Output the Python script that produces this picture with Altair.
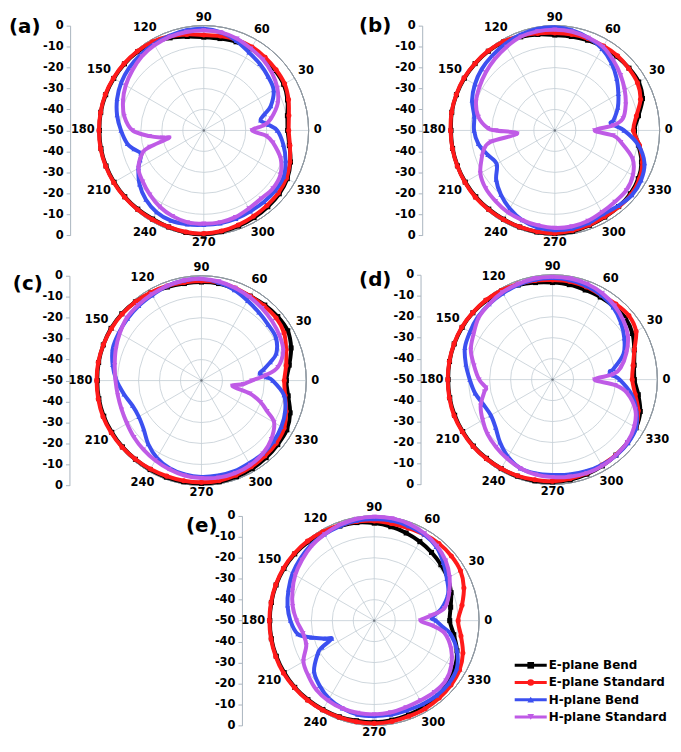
import math
import altair as alt
import pandas as pd

FONT = "DejaVu Sans"
SERIES = ["E-plane Bend", "E-plane Standard", "H-plane Bend", "H-plane Standard"]
COLORS = ["#000000", "#ff1a1a", "#3c50f0", "#bf5be6"]
SHAPES = ["square", "circle", "triangle-up", "triangle-down"]
ANGLES = list(range(0, 360, 10))
SPOKES = list(range(0, 360, 30))
RINGS = [-40, -30, -20, -10]
OUTER = [0]
TICKS = list(range(-50, 51, 10))

# ---------------- panel (a) ----------------
A_E_BEND = [-10, -9.5, -7.5, -6, -5.5, -5, -5, -5, -5.5, -5.5, -4.5, -3, -1.8, -1, -0.6, -0.4, -0.2, -0.1,
            -0.2, -0.2, -0.4, -0.6, -0.8, -1, -1.2, -1, -0.6, -0.5, -1, -1.5, -2, -2.5, -3, -4, -6, -8.5]
A_E_STD = [-9.5, -8.8, -7, -5.5, -5, -4.5, -4, -4, -4.3, -4.5, -3.5, -2.2, -1.2, -0.7, -0.4, -0.2, 0, 0,
           0, 0, -0.2, -0.4, -0.6, -0.8, -1, -1, -0.8, -0.8, -1.3, -2, -2.7, -3.2, -3.6, -4.5, -6.3, -8.3]
A_H_BEND = [-15, -22.5, -16, -11.5, -10, -8.5, -7, -4.5, -2.5, -1.5, -1.5, -2, -2.5, -3, -3.5, -4.5, -6, -8,
            -10.5, -13, -18, -14, -10, -7, -5, -4.2, -4.5, -5, -5, -5.2, -5.5, -5.5, -5.5, -6, -8.5, -11.5]
A_H_STD = [-27, -17.5, -12.5, -9.5, -7.5, -6, -5, -3.5, -2.5, -2.3, -2.3, -2.5, -3, -4, -5.5, -7, -9, -11.5,
           -16, -30, -19, -14, -12, -10, -8, -6.5, -5.5, -5.5, -5.5, -6, -7, -7.5, -7, -7.8, -11, -16.5]
A_EXTRA = {"H-plane Bend": ([5, 15, 195, 205], [-19, -20, -15.5, -16.5]),
           "H-plane Standard": ([5, 355, 186, 192, 197], [-21, -20, -24, -33, -23])}

# ---------------- panel (b) ----------------
B_E_BEND = [-12, -9.5, -5.5, -3.8, -3.8, -4, -4, -4.2, -4.5, -4.5, -3.5, -2.5, -1.3, -0.7, -0.4, -0.2, -0.1, -0.1,
            -0.5, -0.5, -0.6, -0.7, -0.8, -1, -1.1, -1, -0.8, -0.8, -1.2, -1.8, -2.3, -2.6, -3, -4, -6, -9.5]
B_E_STD = [-12.5, -10.5, -6.5, -4.5, -4, -3.5, -3.5, -3.5, -3.5, -3.5, -3, -2, -1, -0.5, -0.3, 0, 0, 0,
           -0.3, -0.4, -0.5, -0.5, -0.5, -0.8, -1, -1, -1, -1, -1.5, -2, -2.5, -2.5, -2.5, -3.5, -5.5, -9]
B_H_BEND = [-17, -21.5, -18, -15, -11.5, -8, -5, -3, -1.5, -0.8, -0.8, -1.5, -2.5, -3.5, -4.5, -6, -8, -11,
            -11.5, -13, -16, -18, -13.5, -10, -7, -4.5, -3, -2.5, -2.5, -3, -4, -3, -2, -2.5, -4.5, -9.5]
B_H_STD = [-31, -17, -14, -11.5, -9, -6.5, -4, -3, -2.2, -2, -2, -2.5, -4, -5.5, -7, -8.5, -10, -13,
           -22, -19, -13, -9, -7, -6, -5, -4.5, -4, -3.5, -3.5, -4, -5, -5.5, -5.5, -7, -10.5, -18]
B_EXTRA = {"H-plane Bend": ([7], [-23]),
           "H-plane Standard": ([5, 355, 178, 185, 195], [-22, -22, -18, -32, -15])}

# ---------------- panel (c) ----------------
C_E_BEND = [-9.5, -7.5, -4.5, -2.5, -2.5, -3, -3.5, -3.5, -3, -3, -3, -2.5, -1.8, -1, -0.4, -0.2, -0.2, -0.2,
            -0.3, -0.3, -0.4, -0.6, -0.8, -1, -1, -1, -1, -1, -1, -1.2, -1.5, -2, -2.5, -3, -5, -8]
C_E_STD = [-10.5, -9, -7, -4.5, -3.5, -3.5, -3.5, -3, -2.5, -2.5, -2.5, -2, -1.5, -1, -0.6, -0.4, -0.2, 0,
           0, 0, 0, -0.3, -0.6, -1, -1.3, -1.5, -1.5, -1.5, -1.5, -2, -2.5, -3, -3.5, -4.5, -7, -9.5]
C_H_BEND = [-16, -20, -12, -9, -8.5, -7.5, -6, -4, -2.5, -1.5, -1.5, -2, -3, -3.5, -4, -4.5, -5, -7,
            -9.5, -12.5, -15, -15.5, -14, -10.5, -7.5, -5.5, -4.5, -4, -4, -4, -4.5, -4.5, -5, -6, -7.5, -10]
C_H_STD = [-26, -13, -8.5, -7, -6, -5, -4, -3, -2, -1.5, -1.5, -2, -2.5, -3, -3.5, -5, -6.5, -8,
           -9, -9.5, -9.5, -9, -8, -7, -6, -5, -4, -3.5, -3, -3, -3.5, -4.5, -6.5, -10, -20, -35]
C_EXTRA = {"H-plane Bend": ([3, 7, 15], [-19, -22, -16]),
           "H-plane Standard": ([5, 335, 345, 355], [-19, -15.5, -26, -30])}

# ---------------- panel (d) ----------------
D_E_BEND = [-11, -10.5, -8.5, -6, -4.5, -4.5, -4.5, -4.5, -4, -3.7, -3, -2, -1.3, -0.8, -0.4, -0.2, -0.1, -0.1,
            -0.2, -0.2, -0.3, -0.5, -0.7, -1, -1, -1, -1, -1.2, -1.5, -2, -2.5, -3, -3.3, -4, -5.5, -8.5]
D_E_STD = [-12, -11, -8.5, -4, -2.5, -3, -3.5, -3, -2.5, -2.5, -2, -1.5, -1, -0.5, -0.3, 0, 0, 0,
           0, 0, 0, -0.3, -0.5, -0.8, -1, -1.2, -1.5, -1.5, -2, -2.5, -3, -3, -3.3, -4.2, -6.5, -10]
D_H_BEND = [-18, -20.5, -14, -10.5, -7.5, -5, -3.5, -2.5, -1.8, -1.5, -1.5, -2, -2.5, -3, -3.5, -4.5, -5.5, -8,
            -10.5, -12.5, -15, -16, -14.5, -11, -7.5, -5, -4.5, -4.5, -4, -3.5, -3, -2.8, -3, -4, -7.5, -12]
D_H_STD = [-30, -17, -12.5, -8.5, -6, -4, -2.5, -1.5, -1, -1, -1, -1.5, -2, -3, -4, -6.5, -8.5, -12,
           -15, -17, -13.5, -11.5, -9.5, -8, -6.5, -5, -4, -3.5, -3, -2.5, -2.5, -3, -3.5, -5, -8, -14]
D_EXTRA = {"H-plane Bend": ([4, 8], [-21, -22.5]),
           "H-plane Standard": ([5, 355, 187], [-21, -20, -18])}

# ---------------- panel (e) ----------------
E_E_BEND = [-14, -13, -11, -9.5, -8.5, -7.5, -6.5, -5.5, -4.5, -3.5, -2.5, -2, -1.5, -1, -0.5, -0.3, -0.2, -0.2,
            -0.2, -0.2, -0.3, -0.4, -0.5, -0.8, -1, -1.2, -1.5, -1.5, -1.8, -2.2, -2.5, -3, -4, -5.5, -8, -11.5]
E_E_STD = [-10, -7.5, -4.5, -2.5, -2, -2, -2.5, -3, -3, -2.5, -2, -1.5, -1, -0.5, -0.2, 0, 0, 0,
           0, 0, 0, 0, -0.3, -0.5, -0.8, -1, -1, -1, -1.2, -1.5, -1.5, -1.8, -2.2, -3, -5, -8]
E_H_BEND = [-20.5, -17.5, -12.5, -10, -7, -4, -2.5, -2, -1.5, -1.5, -1.5, -2, -2.5, -3, -4, -5, -6.5, -8,
            -10, -13, -25, -19, -12.5, -9.5, -7, -5.5, -4.5, -4.5, -4.5, -4.5, -4, -3.5, -3.5, -4.5, -8, -13]
E_H_STD = [-28, -16, -12, -8.5, -5.5, -3.5, -2, -1, -0.5, -0.5, -0.8, -1.5, -2.5, -3.5, -5, -6.5, -8.5, -10.5,
           -13, -15.5, -15.5, -11, -9, -7, -6, -5.5, -5.3, -5.3, -5.5, -6, -6, -5.5, -5.5, -7.5, -11, -16]
E_EXTRA = {"H-plane Bend": ([3, 355, 195, 203, 207], [-22.5, -17.5, -19, -28, -22]),
           "H-plane Standard": ([5, 355], [-23, -22])}

# ---------------- layout (pixels inside the view) ----------------
S = 0.978
R = 108 * S
GRID_C = "#c3ccd4"
OUTER_C = "#8f979f"
AXIS_C = "#a9b4be"

PANELS = [
    # letter, series arrays, extras, centre (ref px), axis x (ref px), letter dx, letter dy
    ("(a)", [A_E_BEND, A_E_STD, A_H_BEND, A_H_STD], A_EXTRA, (201.7, 123.3), 64.0, -90.6, 1.6),
    ("(b)", [B_E_BEND, B_E_STD, B_H_BEND, B_H_STD], B_EXTRA, (563.3, 123.3), 426.7, -91.6, 0.5),
    ("(c)", [C_E_BEND, C_E_STD, C_H_BEND, C_H_STD], C_EXTRA, (199.3, 381.0), 63.3, -84.4, 8.5),
    ("(d)", [D_E_BEND, D_E_STD, D_H_BEND, D_H_STD], D_EXTRA, (561.0, 380.0), 425.0, -89.3, 5.4),
    ("(e)", [E_E_BEND, E_E_STD, E_H_BEND, E_H_STD], E_EXTRA, (377.3, 628.3), 241.0, -84.1, 10.2),
]

color_scale = alt.Scale(domain=SERIES, range=COLORS)
shape_scale = alt.Scale(domain=SERIES, range=SHAPES)
radius_scale = alt.Scale(type="linear", domain=[-50, 0], range=[0, R], zero=False, nice=False)


def curve_frame(arrays, extras):
    rows = []
    for s, vals in zip(SERIES, arrays):
        for a, v in zip(ANGLES, vals):
            rows.append({"series": s, "ang": a, "db": v})
        if s in extras:
            for a, v in zip(*extras[s]):
                rows.append({"series": s, "ang": a, "db": v})
    return pd.DataFrame(rows)


def panel(letter, arrays, extras, centre, axis_x, ldx, ldy):
    cx, cy = centre[0] * S, centre[1] * S
    xsc = alt.Scale(domain=[-50, 50], range=[cx - R, cx + R], nice=False, zero=False)
    ysc = alt.Scale(domain=[-50, 50], range=[cy + R, cy - R], nice=False, zero=False)
    yax = alt.Axis(orient="left", offset=-(axis_x * S), values=TICKS,
                   labelExpr="abs(datum.value) - 50", title=None, grid=False,
                   domainColor=AXIS_C, tickColor=AXIS_C, tickSize=4, domainWidth=1,
                   labelFont=FONT, labelFontSize=11.5, labelFontWeight="bold",
                   labelColor="#000000", labelPadding=3)

    def X(f):
        return alt.X(f, type="quantitative", scale=xsc, axis=None)

    def Y(f):
        return alt.Y(f, type="quantitative", scale=ysc, axis=yax)

    XD = alt.XDatum(0, type="quantitative", scale=xsc, axis=None)
    YD = alt.YDatum(0, type="quantitative", scale=ysc, axis=yax)

    rings = alt.Chart(pd.DataFrame({"ring": RINGS})).mark_arc(
        filled=False, stroke=GRID_C, strokeWidth=0.8, theta=0, theta2=6.2832
    ).encode(x=XD, y=YD, radius=alt.Radius("ring:Q", scale=radius_scale, stack=None))

    outer = alt.Chart(pd.DataFrame({"ring": OUTER})).mark_arc(
        filled=False, stroke=OUTER_C, strokeWidth=1, theta=0, theta2=6.2832
    ).encode(x=XD, y=YD, radius=alt.Radius("ring:Q", scale=radius_scale, stack=None))

    spokes = alt.Chart(pd.DataFrame({"sp": SPOKES})).transform_calculate(
        x0="0", y0="0",
        x1="50*cos(datum.sp*PI/180)", y1="50*sin(datum.sp*PI/180)"
    ).mark_rule(color=GRID_C, strokeWidth=0.8).encode(
        x=X("x0"), y=Y("y0"), x2="x1:Q", y2="y1:Q")

    centre_dot = alt.Chart(pd.DataFrame({"c": [0]})).mark_point(
        filled=True, size=6, color="#6f7780", opacity=1).encode(x=X("c"), y=Y("c"))

    labels = alt.Chart(pd.DataFrame({"sp": SPOKES, "lab": [str(a) for a in SPOKES]})).transform_calculate(
        rl="52 + 1.6*abs(sin(datum.sp*PI/180)) + abs(cos(datum.sp*PI/180))*(0.6 + 1.7*length(datum.lab))"
    ).transform_calculate(
        lx="datum.rl*cos(datum.sp*PI/180)", ly="datum.rl*sin(datum.sp*PI/180)"
    ).mark_text(font=FONT, fontSize=11.5, fontWeight="bold", color="#000000",
                align="center", baseline="middle").encode(x=X("lx"), y=Y("ly"), text="lab:N")

    tag = alt.Chart(pd.DataFrame({"t": [letter]})).mark_text(
        font=FONT, fontSize=20, fontWeight="bold", color="#000000",
        align="left", baseline="middle", dx=ldx, dy=ldy
    ).encode(x=alt.XDatum(-50, type="quantitative", scale=xsc, axis=None),
             y=alt.YDatum(50, type="quantitative", scale=ysc, axis=yax), text="t:N")

    base = alt.Chart(curve_frame(arrays, extras)).transform_calculate(
        r="datum.db + 50"
    ).transform_calculate(
        x="datum.r*cos(datum.ang*PI/180)", y="datum.r*sin(datum.ang*PI/180)"
    )
    layers = [rings, spokes, outer, centre_dot]
    for s in SERIES:
        sb = base.transform_filter(alt.datum.series == s)
        layers.append(sb.mark_line(interpolate="cardinal-closed", strokeWidth=4).encode(
            x=X("x"), y=Y("y"), order=alt.Order("ang:Q"),
            color=alt.Color("series:N", scale=color_scale, legend=None)))
        layers.append(sb.mark_point(filled=True, size=26, opacity=1).encode(
            x=X("x"), y=Y("y"),
            color=alt.Color("series:N", scale=color_scale, legend=None),
            shape=alt.Shape("series:N", scale=shape_scale, legend=None)))
    layers += [labels, tag]
    return alt.layer(*layers)


panels = [panel(*p) for p in PANELS]

# ---------------- legend ----------------
leg_df = pd.DataFrame({"series": SERIES})
leg_y = alt.Y("series:N", scale=alt.Scale(type="point", domain=SERIES, range=[659.5, 711.5], padding=0),
              axis=None)
leg_rule = alt.Chart(leg_df).mark_rule(strokeWidth=3).encode(
    x=alt.value(522 * S), x2=alt.value(555 * S), y=leg_y,
    color=alt.Color("series:N", scale=color_scale, legend=None))
leg_pt = alt.Chart(leg_df).mark_point(filled=True, size=45, opacity=1).encode(
    x=alt.value(538.5 * S), y=leg_y,
    color=alt.Color("series:N", scale=color_scale, legend=None),
    shape=alt.Shape("series:N", scale=shape_scale, legend=None))
leg_txt = alt.Chart(leg_df).mark_text(font=FONT, fontSize=12, fontWeight="bold", color="#000000",
                                      align="left", baseline="middle").encode(
    x=alt.value(557 * S), y=leg_y, text="series:N")
legend = alt.layer(leg_rule, leg_pt, leg_txt)

chart = alt.layer(*panels, legend).resolve_scale(
    x="independent", y="independent"
).properties(
    width=665, height=736, padding=0
).configure_view(stroke=None)

chart.save("out.html", embed_options={"renderer": "svg", "actions": False})
